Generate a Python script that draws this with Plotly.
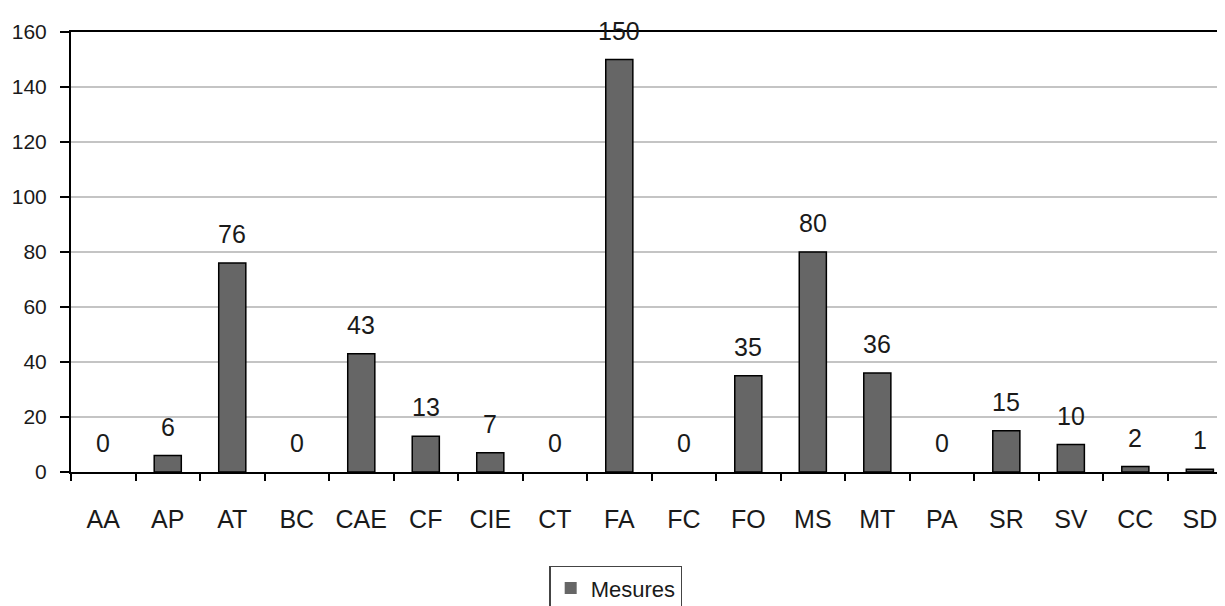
import plotly.graph_objects as go

categories = ["AA", "AP", "AT", "BC", "CAE", "CF", "CIE", "CT", "FA", "FC",
              "FO", "MS", "MT", "PA", "SR", "SV", "CC", "SD"]
values = [0, 6, 76, 0, 43, 13, 7, 0, 150, 0, 35, 80, 36, 0, 15, 10, 2, 1]
series_name = "Mesures"
y_ticks = [0, 20, 40, 60, 80, 100, 120, 140, 160]

FONT = "Liberation Sans, Arial, sans-serif"

fig = go.Figure()
fig.add_trace(go.Bar(
    x=categories, y=values, name=series_name,
    marker=dict(color="#666666",
                line=dict(color="#000000", width=[0 if v == 0 else 1.5 for v in values])),
    showlegend=True,
))

for c, v in zip(categories, values):
    fig.add_annotation(x=c, y=v, text=str(v), showarrow=False,
                       yshift=29, yanchor="middle",
                       font=dict(family=FONT, size=25, color="#1a1a1a"))

fig.update_layout(
    width=1225, height=640,
    margin=dict(l=63, r=8, t=24, b=176),
    paper_bgcolor="white", plot_bgcolor="white",
    bargap=0.58,
    font=dict(family=FONT, color="#1a1a1a"),
    legend=dict(
        orientation="h", x=0.472, xanchor="center", y=-0.213, yanchor="top",
        bordercolor="#444444", borderwidth=1.5,
        font=dict(family=FONT, size=22, color="#1a1a1a"),
        itemwidth=30,
    ),
    xaxis=dict(
        type="category", range=[-0.5, 17.39], automargin=False,
        showline=True, linecolor="black", linewidth=2, mirror=True,
        ticks="outside", tickson="boundaries", ticklen=7, tickcolor="black", tickwidth=1.5,
        tickfont=dict(family=FONT, size=25, color="#1a1a1a"),
        tickangle=0,
        ticklabelstandoff=24,
        showgrid=False,
    ),
    yaxis=dict(
        range=[0, 160], tickvals=y_ticks, automargin=False,
        showline=True, linecolor="black", linewidth=2,
        ticks="outside", ticklen=9, tickcolor="black", tickwidth=1.5,
        tickfont=dict(family=FONT, size=21, color="#1a1a1a"),
        ticklabelstandoff=9,
        showgrid=True, gridcolor="#c4c4c4", gridwidth=1.5,
        zeroline=False,
    ),
)

fig.write_html("out.html")
